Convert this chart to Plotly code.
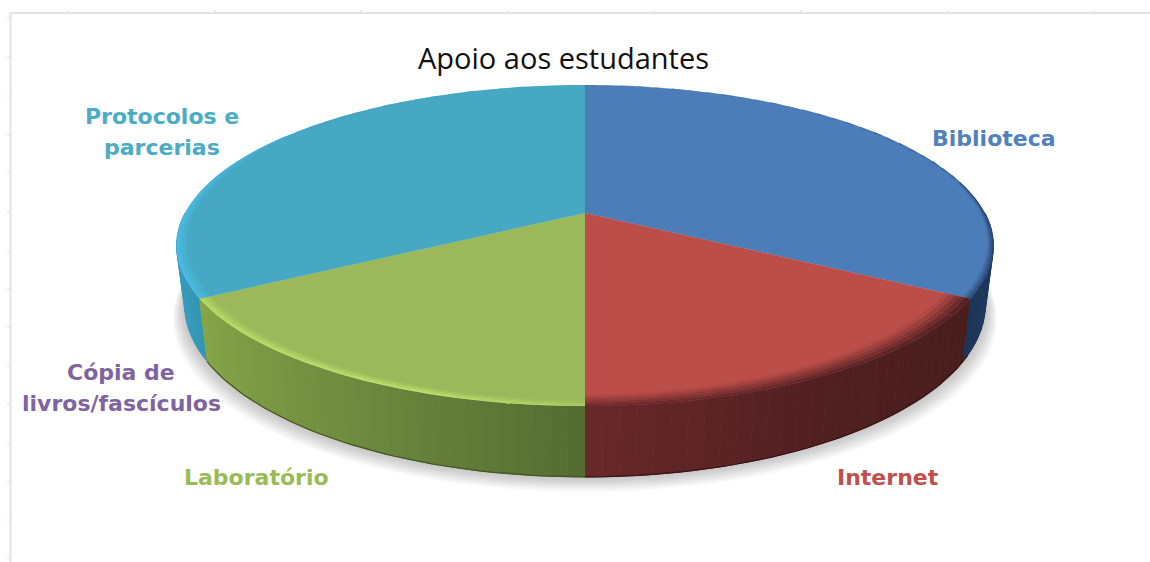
import numpy as np
import plotly.graph_objects as go

# Data
categories = ["Biblioteca", "Internet", "Laboratório", "Cópia de<br>livros/fascículos", "Protocolos e<br>parcerias"]
values = [2, 1, 1, 0, 2]
top_colors = ["#4d7db9", "#bc4e4a", "#9bb95a", "#8064a2", "#47a8c3"]
label_colors = ["#4f81bd", "#c0504d", "#9bbb59", "#8064a2", "#4bacc6"]
label_x = [994, 888, 256, 121, 162]
label_y = [138, 477, 477, 388, 132]
title_text = "Apoio aos estudantes"

# Frame around the sheet, with its small ruler ticks
frame_x_ticks = [68, 215, 361, 508, 654, 801, 948, 1094]
frame_y_ticks = [18, 57, 96, 135, 173, 212, 251, 289, 327, 366, 404, 443, 482, 520, 558]

# Side-wall shading by angle, clockwise from twelve o'clock
wall_angle = [90, 120, 120.01, 150, 180, 180.01, 210, 240, 240.01, 270]
wall_rgb = [(33, 62, 100), (27, 52, 88), (72, 29, 30), (80, 31, 32), (104, 40, 42),
            (84, 108, 50), (112, 140, 64), (134, 166, 72), (52, 150, 180), (60, 165, 200)]

# Colour and softness of the rim on the top face, by angle
rim_angle = [0, 30, 90, 120, 120.01, 180, 180.01, 200, 240, 240.01, 280, 320, 360]
rim_rgb = [(71, 118, 175), (50, 90, 150), (28, 55, 95), (40, 70, 110), (72, 29, 30), (104, 40, 42),
           (175, 210, 100), (195, 232, 112), (185, 222, 105), (75, 190, 230), (75, 190, 230),
           (60, 160, 195), (71, 168, 195)]
rim_width_angle = [0, 90, 120, 121, 180, 181, 240, 241, 300, 360]
rim_width = [.004, .012, .02, .06, .05, .025, .028, .03, .02, .002]


# Tilted disc: perspective projection of the unit circle
CX, CY, SX, SY, PERSP = 585.0, 213.0, 400.0, 154.0, 0.2025
BOTTOM_Y, BOTTOM_SX, BOTTOM_SY = 270.0, 392.0, 165.0


def top_face(theta, r=1.0):
    x, y = r * np.sin(np.radians(theta)), -r * np.cos(np.radians(theta))
    w = 1 - PERSP * y
    return CX + SX * x / w, CY + SY * y / w


def bottom_face(theta):
    x, y = np.sin(np.radians(theta)), -np.cos(np.radians(theta))
    w = 1 - PERSP * y
    return CX + BOTTOM_SX * x / w, BOTTOM_Y + BOTTOM_SY * y / w


def blend(theta, angles, rgb):
    return np.array([np.interp(theta, angles, [c[i] for c in rgb]) for i in range(3)])


def css(c):
    return "rgb({},{},{})".format(*[int(round(v)) for v in c])


def hex_rgb(h):
    return np.array([int(h[i:i + 2], 16) for i in (1, 3, 5)], float)


def polygon(fig, xs, ys, color, line=True):
    fig.add_trace(go.Scatter(x=xs, y=ys, mode="lines", fill="toself", fillcolor=color,
                             line=dict(color=color, width=1 if line else 0),
                             hoverinfo="skip", showlegend=False))


fig = go.Figure()

# Sheet frame
fig.add_trace(go.Scatter(x=[1150, 10.5, 10.5], y=[13, 13, 562], mode="lines",
                         line=dict(color="#e2e2e2", width=2), hoverinfo="skip", showlegend=False))
for tx in frame_x_ticks:
    fig.add_trace(go.Scatter(x=[tx, tx], y=[10, 13], mode="lines", line=dict(color="#e2e2e2", width=1),
                             hoverinfo="skip", showlegend=False))
for ty in frame_y_ticks:
    fig.add_trace(go.Scatter(x=[7, 10], y=[ty, ty], mode="lines", line=dict(color="#e2e2e2", width=1),
                             hoverinfo="skip", showlegend=False))

# Soft cast shadow under the disc, built from many faint layers
sweep = np.linspace(0, 360, 181)
for layer in range(12, 0, -1):
    bx, by = bottom_face(sweep)
    polygon(fig, CX + (bx - CX) * (1 + layer / 400), by + layer * 1.25,
            "rgba(90,90,90,0.028)", line=False)

# Slice boundaries follow the values
total = sum(values)
edges = np.concatenate([[0], np.cumsum(values) / total * 360])

# Side wall, painted in narrow strips from the flanks to the front
wall_step = 2.0
for theta in sorted(np.arange(90, 270, wall_step), key=lambda a: -abs(a + wall_step / 2 - 180)):
    seg = np.linspace(theta, theta + wall_step, 3)
    tx, ty = top_face(seg)
    bx, by = bottom_face(seg[::-1])
    polygon(fig, np.r_[tx, bx], np.r_[ty, by], css(blend(theta + wall_step / 2, wall_angle, wall_rgb)))

# Top face, one flat sector per category
for i, v in enumerate(values):
    if v == 0:
        continue
    seg = np.linspace(edges[i], edges[i + 1], 90)
    px, py = top_face(seg)
    polygon(fig, np.r_[CX, px, CX], np.r_[CY, py, CY], top_colors[i], line=False)

# Bevelled rim: rings fading from the face colour into the rim colour
ring_levels = [0.0, .2, .4, .6, .8, 1.0]
rim_step = 3.0
for i, v in enumerate(values):
    if v == 0:
        continue
    base = hex_rgb(top_colors[i])
    n = max(1, int(round((edges[i + 1] - edges[i]) / rim_step)))
    steps = np.linspace(edges[i], edges[i + 1], n + 1)
    for a0, a1 in zip(steps[:-1], steps[1:]):
        mid = (a0 + a1) / 2
        width = np.interp(mid, rim_width_angle, rim_width)
        rim = blend(mid, rim_angle, rim_rgb)
        for lo, hi in zip(ring_levels[:-1], ring_levels[1:]):
            seg = np.linspace(a0, a1, 3)
            ox, oy = top_face(seg, 1 - width * (1 - hi))
            ix, iy = top_face(seg[::-1], 1 - width * (1 - lo))
            mix = (lo + hi) / 2
            polygon(fig, np.r_[ox, ix], np.r_[oy, iy], css(base * (1 - mix) + rim * mix), line=False)

# Dark contour along the foot of the wall
for a0, a1, c in [(118, 180, "#3c1214"), (180, 240, "#44561f")]:
    seg = np.linspace(a0, a1, 50)
    bx, by = bottom_face(seg)
    fig.add_trace(go.Scatter(x=bx, y=by, mode="lines", line=dict(color=c, width=1.2),
                             hoverinfo="skip", showlegend=False))

# Category labels, one annotation per text line
LINE_GAP = 31
for name, x, y, color in zip(categories, label_x, label_y, label_colors):
    lines = name.split("<br>")
    for k, line in enumerate(lines):
        fig.add_annotation(x=x, y=y + (k - (len(lines) - 1) / 2) * LINE_GAP, text=f"<b>{line}</b>",
                           showarrow=False, align="center",
                           font=dict(family="DejaVu Sans", size=22, color=color))

fig.add_annotation(x=563, y=57, text=title_text, showarrow=False,
                   font=dict(family="Open Sans", size=29, color="#111111"))

fig.update_layout(
    width=1150, height=562, margin=dict(l=0, r=0, t=0, b=0),
    paper_bgcolor="white", plot_bgcolor="white", showlegend=False,
    xaxis=dict(range=[0, 1150], visible=False, fixedrange=True),
    yaxis=dict(range=[562, 0], visible=False, fixedrange=True),
)

fig.write_html("out.html", config=dict(displayModeBar=False))
